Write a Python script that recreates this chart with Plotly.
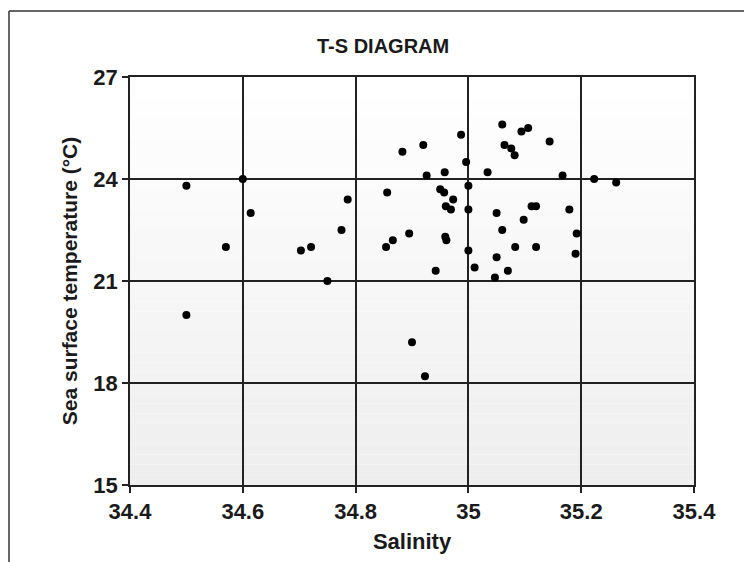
import plotly.graph_objects as go

salinity = [34.50, 34.50, 34.60, 34.614, 34.57, 34.703, 34.721, 34.775, 34.786, 34.75,
            34.883, 34.92, 34.926, 34.856, 34.895, 34.866, 34.854, 34.90, 34.923,
            34.987, 34.958, 34.996, 35.00, 35.034, 35.06, 35.094, 35.106, 35.144,
            35.064, 35.076, 35.082, 35.167, 35.223, 35.262, 34.95, 34.957, 34.973,
            34.96, 34.969, 35.00, 35.05, 35.098, 35.112, 35.12, 35.179, 35.192,
            35.19, 34.959, 34.961, 35.06, 35.00, 35.083, 35.12, 35.05, 34.942,
            35.011, 35.07, 35.047]
temperature = [23.8, 20.0, 24.0, 23.0, 22.0, 21.9, 22.0, 22.5, 23.4, 21.0,
               24.8, 25.0, 24.1, 23.6, 22.4, 22.2, 22.0, 19.2, 18.2,
               25.3, 24.2, 24.5, 23.8, 24.2, 25.6, 25.4, 25.5, 25.1,
               25.0, 24.9, 24.7, 24.1, 24.0, 23.9, 23.7, 23.6, 23.4,
               23.2, 23.1, 23.1, 23.0, 22.8, 23.2, 23.2, 23.1, 22.4,
               21.8, 22.3, 22.2, 22.5, 21.9, 22.0, 22.0, 21.7, 21.3,
               21.4, 21.3, 21.1]

x_ticks = [34.4, 34.6, 34.8, 35.0, 35.2, 35.4]
x_tick_labels = ["34.4", "34.6", "34.8", "35", "35.2", "35.4"]
y_ticks = [15, 18, 21, 24, 27]

W, H = 744, 562
L, R, T, B = 130, 50, 77, 77
pw, ph = W - L - R, H - T - B

FONT = "Liberation Sans, Arial, sans-serif"
TXT = "#1a1a1a"

fig = go.Figure()
fig.add_trace(go.Scatter(
    x=salinity, y=temperature, mode="markers",
    marker=dict(color="black", size=8),
    showlegend=False, hoverinfo="x+y"))

# gradient background bands
shapes = []
n = 40
for i in range(n):
    f = i / (n - 1)
    v = int(round(238 + (255 - 238) * f))
    shapes.append(dict(type="rect", xref="x domain", yref="y domain",
                       x0=0, x1=1, y0=i / n, y1=(i + 1) / n,
                       fillcolor=f"rgb({v},{v},{v})", line=dict(width=0),
                       layer="below"))
# outer chart border (top and left edges only visible)
top_y = (T + ph - 11) / ph
left_x = (9 - L) / pw
shapes.append(dict(type="line", xref="paper", yref="paper",
                   x0=left_x, x1=2.0, y0=top_y, y1=top_y,
                   line=dict(color="#333", width=1.5)))
shapes.append(dict(type="line", xref="paper", yref="paper",
                   x0=left_x, x1=left_x, y0=top_y, y1=-1.0,
                   line=dict(color="#333", width=1.5)))

fig.update_layout(
    width=W, height=H,
    margin=dict(l=L, r=R, t=T, b=B),
    paper_bgcolor="white",
    plot_bgcolor="white",
    shapes=shapes,
    font=dict(family=FONT, color=TXT),
    annotations=[
        dict(text="T-S DIAGRAM", xref="paper", yref="paper",
             x=(383 - L) / pw, y=(T + ph - 46) / ph, showarrow=False,
             font=dict(size=20, family=FONT, color=TXT, weight="bold"),
             xanchor="center", yanchor="middle"),
    ],
    xaxis=dict(
        range=[34.4, 35.4], tickvals=x_ticks, ticktext=x_tick_labels,
        showgrid=True, gridcolor="#222", gridwidth=1.5,
        showline=True, linecolor="#222", linewidth=1.5, mirror=True,
        ticks="outside", ticklen=6, tickcolor="#222", tickwidth=1.5,
        tickfont=dict(size=22, family=FONT, color=TXT, weight="bold"),
        title=dict(text="Salinity", standoff=10,
                   font=dict(size=22, family=FONT, color=TXT, weight="bold")),
        zeroline=False,
    ),
    yaxis=dict(
        range=[15, 27], tickvals=y_ticks,
        showgrid=True, gridcolor="#222", gridwidth=1.5,
        showline=True, linecolor="#222", linewidth=1.5, mirror=True,
        ticks="outside", ticklen=6, tickcolor="#222", tickwidth=1.5,
        tickfont=dict(size=22, family=FONT, color=TXT, weight="bold"),
        title=dict(text="Sea surface temperature (°C)", standoff=10,
                   font=dict(size=21, family=FONT, color=TXT, weight="bold")),
        zeroline=False,
    ),
)

fig.write_html("out.html")
